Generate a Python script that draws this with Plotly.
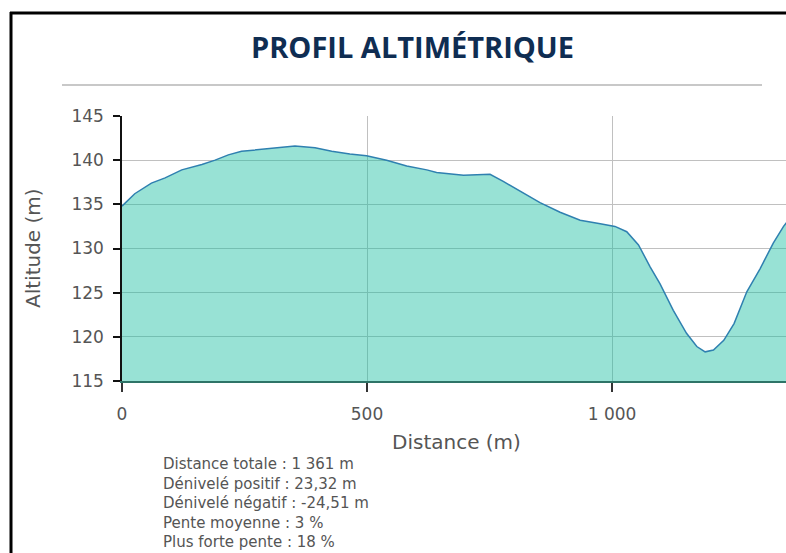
import plotly.graph_objects as go

# ---- data ----
distance_m = [0, 26, 60, 88, 122, 163, 190, 217, 244, 285, 326, 353, 394, 428, 465,
              499, 540, 581, 622, 642, 697, 751, 778, 819, 853, 894, 935, 976, 1006,
              1030, 1054, 1078, 1098, 1125, 1152, 1173, 1190, 1207, 1228, 1249, 1275,
              1302, 1329, 1350, 1361]
altitude_m = [134.8, 136.2, 137.4, 138.0, 138.9, 139.5, 140.0, 140.6, 141.0, 141.25,
              141.5, 141.6, 141.4, 141.0, 140.7, 140.5, 140.0, 139.35, 138.9, 138.6,
              138.3, 138.4, 137.6, 136.3, 135.2, 134.1, 133.2, 132.8, 132.5, 131.9,
              130.4, 127.9, 126.0, 123.0, 120.4, 118.9, 118.3, 118.5, 119.6, 121.5,
              125.1, 127.7, 130.6, 132.5, 133.3]
x_tickvals = [0, 500, 1000]
x_ticktext = ["0", "500", "1\u00a0000"]
stats_lines = [
    "Distance totale : 1\u00a0361 m",
    "Dénivelé positif : 23,32 m",
    "Dénivelé négatif : -24,51 m",
    "Pente moyenne : 3 %",
    "Plus forte pente : 18 %",
]
title_text = "PROFIL ALTIMÉTRIQUE"

W, H = 786, 553
def X(px):
    return px / W
def Y(py):
    return 1 - py / H

fig = go.Figure()
fig.add_trace(go.Scatter(
    x=distance_m, y=altitude_m, mode="lines", fill="tozeroy",
    fillcolor="rgba(26,190,162,0.45)",
    line=dict(color="#2f80b0", width=1.5),
    hoverinfo="x+y", showlegend=False,
))

tick_font = dict(family="DejaVu Sans, Verdana, sans-serif", size=17, color="#555555")

fig.update_layout(
    width=W, height=H,
    margin=dict(l=0, r=0, t=0, b=0),
    paper_bgcolor="white", plot_bgcolor="white",
    xaxis=dict(
        domain=[X(122), 1.0], range=[0, 1355], automargin=False,
        tickmode="array", tickvals=x_tickvals, ticktext=x_ticktext,
        showline=True, linecolor="#2e7467", linewidth=2,
        ticks="outside", ticklen=9, tickwidth=2, tickcolor="#333333",
        showgrid=True, gridcolor="#c0c0c0", gridwidth=1, zeroline=False,
        tickfont=tick_font, ticklabelstandoff=8,
    ),
    yaxis=dict(
        domain=[Y(381), Y(116)], range=[115, 145], automargin=False,
        tickmode="linear", tick0=115, dtick=5,
        showline=True, linecolor="#111111", linewidth=1.5,
        ticks="outside", ticklen=7, tickwidth=1.5, tickcolor="#111111",
        showgrid=True, gridcolor="#c0c0c0", gridwidth=1, zeroline=False,
        tickfont=tick_font, ticklabelstandoff=6,
    ),
)

shapes = [
    dict(type="line", xref="paper", yref="paper", x0=X(11), x1=X(11), y0=Y(12), y1=Y(570),
         line=dict(color="black", width=3)),
    dict(type="line", xref="paper", yref="paper", x0=X(10), x1=X(800), y0=Y(13), y1=Y(13),
         line=dict(color="black", width=3)),
    dict(type="line", xref="paper", yref="paper", x0=X(62), x1=X(762), y0=Y(85), y1=Y(85),
         line=dict(color="#c8c8c8", width=2)),
]
fig.update_layout(shapes=shapes)

annotations = [
    dict(text="<b>" + title_text + "</b>", x=X(412), y=Y(47), xref="paper", yref="paper",
         xanchor="center", yanchor="middle", showarrow=False,
         font=dict(family="Open Sans, sans-serif", size=29, color="#0f2d52")),
    dict(text="Distance (m)", x=X(457), y=Y(442), xref="paper", yref="paper",
         xanchor="center", yanchor="middle", showarrow=False,
         font=dict(family="DejaVu Sans, sans-serif", size=20, color="#555555")),
    dict(text="Altitude (m)", x=X(33), y=Y(248), xref="paper", yref="paper",
         xanchor="center", yanchor="middle", showarrow=False, textangle=-90,
         font=dict(family="DejaVu Sans, sans-serif", size=20, color="#555555")),
    dict(text="<br>".join(stats_lines), x=X(162), y=Y(454), xref="paper", yref="paper",
         xanchor="left", yanchor="top", align="left", showarrow=False, borderpad=0,
         font=dict(family="DejaVu Sans, sans-serif", size=15, color="#555555")),
]
fig.update_layout(annotations=annotations)

# let the figure fill the window exactly (no body margin, no scrollbars)
fig.write_html("out.html",
               config={"displayModeBar": False},
               post_script="document.body.style.margin='0';"
                           "document.documentElement.style.overflow='hidden';"
                           "document.body.style.overflow='hidden';")
